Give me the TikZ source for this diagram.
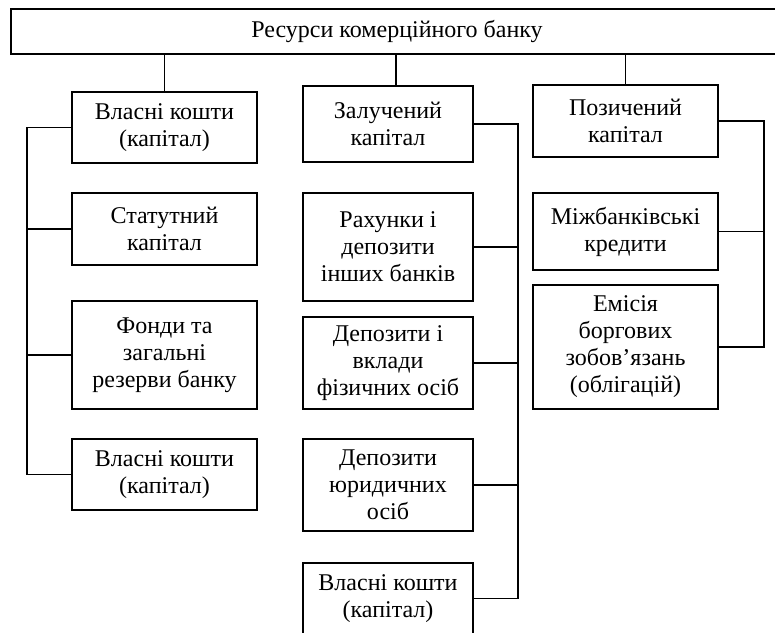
\documentclass[tikz,border=0pt]{standalone}
\usepackage{fontspec}
\setmainfont{Liberation Serif}
\usepackage{tikz}
\usetikzlibrary{positioning,calc}

\begin{document}
\begin{tikzpicture}[
			x=1pt, y=-1pt,
			blk/.style={rectangle,draw=black,line width=1.1pt,inner sep=0pt,align=center,
				font=\fontsize{24}{27}\selectfont},
			colA/.style={blk,minimum width=185pt},
			colB/.style={blk,minimum width=170pt},
			link/.style={black,line width=1.1pt}]
		\useasboundingbox (0,0) rectangle (775,632);
		\path 	(397,31.5) 	node 	(res) [blk, minimum width=772pt, minimum height=45pt] {Ресурси комерційного банку};
		% власний капітал
		\path 	(164.5,127.5) 	node 	(vk1) [colA, minimum height=71pt] {Власні кошти\\(капітал)}
		        (164.5,229) 	node 	(stat) [colA, minimum height=72pt] {Статутний\\капітал}
		        (164.5,355) 	node 	(fond) [colA, minimum height=108pt] {Фонди та\\загальні\\резерви банку}
		        (164.5,474.5) 	node 	(vk2) [colA, minimum height=71pt] {Власні кошти\\(капітал)};
		% залучений капітал
		\path 	(388,124) 	node 	(zal) [colB, minimum height=76pt] {Залучений\\капітал}
		        (388,247) 	node 	(rah) [colB, minimum height=108pt] {Рахунки і\\депозити\\інших банків}
		        (388,363) 	node 	(depf) [colB, minimum height=92pt] {Депозити і\\вклади\\фізичних осіб}
		        (388,485) 	node 	(depu) [colB, minimum height=92pt] {Депозити\\юридичних\\осіб}
		        (388,598.5) node 	(vk3) [colB, minimum height=71pt] {Власні кошти\\(капітал)};
		% позичений капітал
		\path 	(625.5,121) 	node 	(poz) [colA, minimum height=72pt] {Позичений\\капітал}
		        (625.5,231.5) 	node 	(mizh) [colA, minimum height=77pt] {Міжбанківські\\кредити}
		        (625.5,347) 	node 	(emis) [colA, minimum height=124pt] {Емісія\\боргових\\зобов’язань\\(облігацій)};
		\coordinate (busA) at (27,0);
		\coordinate (busB) at (518,0);
		\coordinate (busC) at (764,0);
		\draw [link] (vk1.north) -- (vk1.north |- res.south)
		             ([xshift=8pt]zal.north) -- ([xshift=8pt]zal.north |- res.south)
		             (poz.north) -- (poz.north |- res.south);
		\draw [link] (vk1.west) -- (vk1.west -| busA) |- (vk2.west)
		             (stat.west) -- (stat.west -| busA) (fond.west) -- (fond.west -| busA);
		\draw [link] (zal.east) -- (zal.east -| busB) |- (vk3.east)
		             (rah.east) -- (rah.east -| busB) (depf.east) -- (depf.east -| busB)
		             (depu.east) -- (depu.east -| busB);
		\draw [link] (poz.east) -- (poz.east -| busC) |- (emis.east)
		             (mizh.east) -- (mizh.east -| busC);
	\end{tikzpicture}
\end{document}
